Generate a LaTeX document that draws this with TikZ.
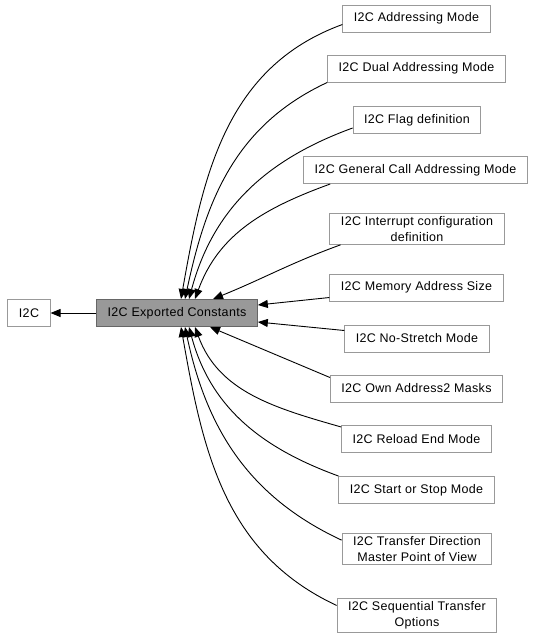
\documentclass[tikz,border=0pt]{standalone}
\usepackage{fontspec}
\setmainfont[LetterSpace=2.5]{Liberation Sans}
\usetikzlibrary{arrows.meta, positioning}

\definecolor{grpfill}{RGB}{153,153,153}
\definecolor{grpline}{RGB}{102,102,102}
\definecolor{boxline}{RGB}{153,153,153}

\begin{document}
\begin{tikzpicture}[
  x=1pt, y=1pt,
  font=\fontsize{12.5}{15.5}\selectfont,
  grp/.style={draw=boxline, fill=white, line width=1pt, minimum height=27pt,
    inner xsep=11pt, inner ysep=3pt, align=center},
  cur/.style={grp, draw=grpline, fill=grpfill},
  link/.style={line width=0.9pt, -{Triangle[length=10pt, width=8pt]}}]

  \useasboundingbox (0,0) rectangle (534,-643);

  % the group and its parent
  \node[grp] (i2c) at (29,-313) {I2C};
  \node[cur] (const) at (177,-313) {I2C Exported Constants};

  % the subgroups
  \node[grp] (addr) at (416.5,-18.5) {I2C Addressing Mode};
  \node[grp] (dual) at (416.5,-68.5) {I2C Dual Addressing Mode};
  \node[grp] (flag) at (417,-120) {I2C Flag definition};
  \node[grp] (gencall) at (415.5,-170) {I2C General Call Addressing Mode};
  \node[grp] (intr) at (417,-229) {I2C Interrupt configuration\\definition};
  \node[grp] (memsize) at (416.5,-287.5) {I2C Memory Address Size};
  \node[grp] (nostretch) at (417,-338.5) {I2C No-Stretch Mode};
  \node[grp] (ownmask) at (416.5,-388.5) {I2C Own Address2 Masks};
  \node[grp] (reload) at (416.5,-439) {I2C Reload End Mode};
  \node[grp] (startstop) at (416.5,-490) {I2C Start or Stop Mode};
  \node[grp] (xferdir) at (417,-549) {I2C Transfer Direction\\Master Point of View};
  \node[grp] (seqxfer) at (417,-615.5) {I2C Sequential Transfer\\Options};

  \draw[link] (const) -- (i2c);

  % edges into the top side
  \draw[link] ([yshift=-6pt]addr.west) to[out=200, in=80] ([xshift=4pt]const.north);
  \draw[link] (dual.south west) to[out=205, in=78] ([xshift=8pt]const.north);
  \draw[link] ([yshift=6pt]flag.south west) to[out=200, in=75] ([xshift=12pt]const.north);
  \draw[link] ([xshift=27pt]gencall.south west) to[out=200, in=70] ([xshift=18pt]const.north);
  \draw[link] ([xshift=11pt]intr.south west) to[out=200, in=22] ([xshift=36pt]const.north);
  % edges into the right side
  \draw[link] ([yshift=4pt]memsize.south west) -- ([yshift=8pt]const.east);
  \draw[link] ([yshift=-6pt]nostretch.north west) -- ([yshift=-9pt]const.east);
  % edges into the bottom side
  \draw[link] ([yshift=-3pt]ownmask.north west) -- ([xshift=33pt]const.south);
  \draw[link] ([yshift=-2pt]reload.north west) to[out=164, in=-70] ([xshift=18pt]const.south);
  \draw[link] (startstop.north west) to[out=160, in=-75] ([xshift=12pt]const.south);
  \draw[link] ([yshift=-7pt]xferdir.north west) to[out=155, in=-78] ([xshift=8pt]const.south);
  \draw[link] ([yshift=-7pt]seqxfer.north west) to[out=155, in=-80] ([xshift=4pt]const.south);
\end{tikzpicture}
\end{document}
